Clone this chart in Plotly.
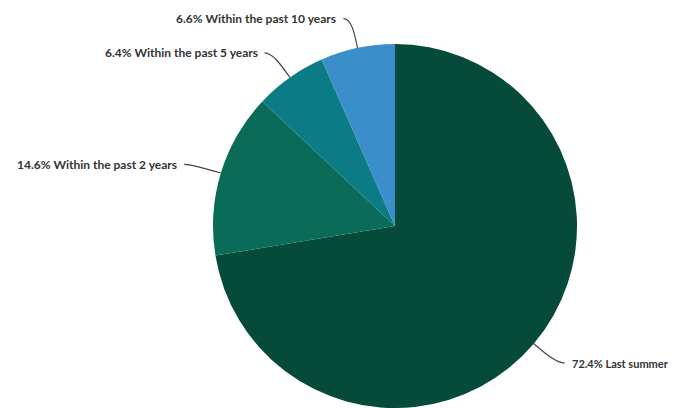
import math
import plotly.graph_objects as go

categories = ["Last summer", "Within the past 2 years", "Within the past 5 years", "Within the past 10 years"]
values = [72.4, 14.6, 6.4, 6.6]
colors = ["#064a3a", "#0a6b58", "#0b7b86", "#3a8fca"]

OFF = 8  # default page body margin
W, H = 682 - OFF, 408 - OFF
ml, mt, mb = 205, 36, 0
ph = H - mt - mb
pw = ph
mr = W - ml - pw
cx, cy = OFF + ml + pw / 2, OFF + mt + ph / 2   # page pixels
r = min(pw, ph) / 2

def to_paper(x, y):
    return (x - OFF - ml) / pw, 1 - (y - OFF - mt) / ph

fig = go.Figure(go.Pie(
    labels=categories, values=values, sort=False, direction="clockwise", rotation=0,
    marker=dict(colors=colors, line=dict(width=0)),
    textinfo="none", hoverinfo="label+percent", showlegend=False,
))

total = sum(values)
start = 0.0
shapes, annotations = [], []
for cat, v in zip(categories, values):
    frac = v / total
    mid = (start + frac / 2) * 2 * math.pi
    start += frac
    s, c = math.sin(mid), math.cos(mid)
    side = 1 if s >= 0 else -1
    ax, ay = cx + r * s, cy - r * c
    q1x, q1y = cx + (r + 16) * s, cy - (r + 16) * c
    lx, ly = cx + (r + 30) * s, cy - (r + 30) * c
    ex = lx + side * 8
    p = [to_paper(ax, ay), to_paper(q1x, q1y), to_paper(lx, ly), to_paper(ex, ly)]
    shapes.append(dict(type="path", xref="paper", yref="paper",
                       path=(f"M {p[0][0]},{p[0][1]} C {p[1][0]},{p[1][1]} "
                             f"{p[2][0]},{p[2][1]} {p[3][0]},{p[3][1]}"),
                       line=dict(color="#444444", width=1.2)))
    tx, ty = to_paper(ex + side * 5, ly)
    annotations.append(dict(x=tx, y=ty, xref="paper", yref="paper", showarrow=False,
                            text=f"{v}% {cat}", xanchor="left" if side > 0 else "right",
                            yanchor="middle",
                            font=dict(family="Lato", size=12 if side < 0 else 11,
                                      color="#333333", weight=700)))

fig.update_layout(
    width=W, height=H, margin=dict(l=ml, r=mr, t=mt, b=mb),
    paper_bgcolor="white", plot_bgcolor="white",
    shapes=shapes, annotations=annotations,
)
fig.write_html("out.html")
